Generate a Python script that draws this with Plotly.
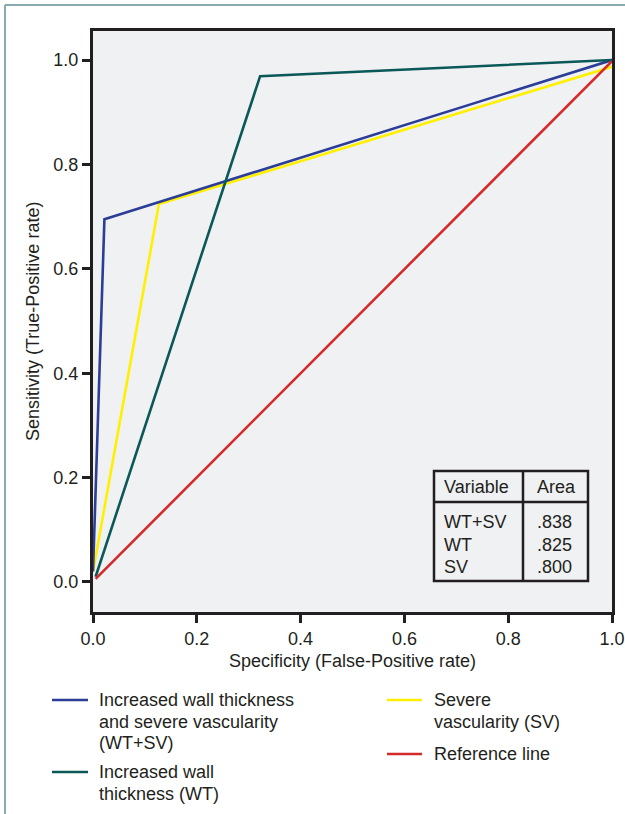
import plotly.graph_objects as go

W, H = 625, 814

# ---- data ----
wtsv_fpr = [0.0, 0.022, 1.0]
wtsv_tpr = [0.02, 0.695, 1.0]
wt_fpr = [0.005, 0.322, 1.0]
wt_tpr = [0.01, 0.969, 1.0]
sv_fpr = [0.0, 0.127, 1.0]
sv_tpr = [0.02, 0.724, 0.987]
ref_fpr = [0.005, 1.0]
ref_tpr = [0.006, 0.998]

tick_vals = [0.0, 0.2, 0.4, 0.6, 0.8, 1.0]
tick_text = ["0.0", "0.2", "0.4", "0.6", "0.8", "1.0"]

table_vars = ["WT+SV", "WT", "SV"]
table_areas = [".838", ".825", ".800"]

legend_names = [
    ["Increased wall thickness", "and severe vascularity", "(WT+SV)"],
    ["Increased wall", "thickness (WT)"],
    ["Severe", "vascularity (SV)"],
    ["Reference line"],
]

C_BLUE = "#2b3d96"
C_TEAL = "#0b5858"
C_YEL = "#fff000"
C_RED = "#d42a2a"
TXT = "#231f20"
FONT = "Liberation Sans, Arial, sans-serif"
FS = 18


def px(x):
    return x / W


def py(y):
    return 1 - y / H


fig = go.Figure()
fig.add_trace(go.Scatter(x=sv_fpr, y=sv_tpr, mode="lines", name="SV",
                         line=dict(color=C_YEL, width=2.6)))
fig.add_trace(go.Scatter(x=wtsv_fpr, y=wtsv_tpr, mode="lines", name="WT+SV",
                         line=dict(color=C_BLUE, width=2.6)))
fig.add_trace(go.Scatter(x=wt_fpr, y=wt_tpr, mode="lines", name="WT",
                         line=dict(color=C_TEAL, width=2.6)))
fig.add_trace(go.Scatter(x=ref_fpr, y=ref_tpr, mode="lines", name="Reference line",
                         line=dict(color=C_RED, width=2.6)))

axis_common = dict(
    showline=True, linecolor=TXT, linewidth=3, mirror=True,
    ticks="outside", ticklen=8, tickwidth=3, tickcolor=TXT,
    showgrid=False, zeroline=False, automargin=False,
    tickvals=tick_vals, ticktext=tick_text,
    tickfont=dict(family=FONT, size=FS, color=TXT),
)

fig.update_layout(
    template="none",
    width=W, height=H,
    margin=dict(l=0, r=0, t=0, b=0, pad=0),
    paper_bgcolor="white",
    plot_bgcolor="#f0f1f3",
    showlegend=False,
    xaxis=dict(domain=[px(93), px(612)], range=[0, 1], **axis_common),
    yaxis=dict(domain=[py(612), py(31)], range=[-0.0575, 1.0556], **axis_common),
    font=dict(family=FONT, color=TXT),
)

shapes = []
annotations = []


def ann(x, y, text, size=FS, xanchor="left", yanchor="middle", **kw):
    annotations.append(dict(xref="paper", yref="paper", x=px(x), y=py(y), text=text,
                            showarrow=False, xanchor=xanchor, yanchor=yanchor,
                            font=dict(size=size, color=TXT, family=FONT), **kw))


# page border (left and top)
border = "#8aabad"
shapes.append(dict(type="line", xref="paper", yref="paper",
                   x0=px(5), x1=px(5), y0=py(5), y1=py(814), line=dict(color=border, width=2)))
shapes.append(dict(type="line", xref="paper", yref="paper",
                   x0=px(5), x1=px(625), y0=py(5), y1=py(5), line=dict(color=border, width=2)))

# axis titles
ann(352, 661, "Specificity (False-Positive rate)", xanchor="center")
ann(33, 322, "Sensitivity (True-Positive rate)", xanchor="center", textangle=-90)

# table
tl, tr, tdiv = 434, 588, 523
tt, thead, tb = 471, 502, 581
tline = dict(color=TXT, width=2.5)
shapes.append(dict(type="rect", xref="paper", yref="paper",
                   x0=px(tl), x1=px(tr), y0=py(tb), y1=py(tt), line=tline, fillcolor="#f0f1f3"))
shapes.append(dict(type="line", xref="paper", yref="paper",
                   x0=px(tl), x1=px(tr), y0=py(thead), y1=py(thead), line=tline))
shapes.append(dict(type="line", xref="paper", yref="paper",
                   x0=px(tdiv), x1=px(tdiv), y0=py(tb), y1=py(tt), line=tline))
ann(442, 487, "Variable")
ann(556, 487, "Area", xanchor="center")
row_y = [522, 545, 567]
for v, a, ry in zip(table_vars, table_areas, row_y):
    ann(442, ry, v)
    ann(535, ry, a)

# manual legend
leg_items = [
    (C_BLUE, 52, 88, 700, 97),
    (C_TEAL, 52, 88, 772, 97),
    (C_YEL, 387, 422, 700, 432),
    (C_RED, 387, 422, 754, 432),
]
for (col, lx0, lx1, ly, tx), lines in zip(leg_items, legend_names):
    shapes.append(dict(type="line", xref="paper", yref="paper",
                       x0=px(lx0), x1=px(lx1), y0=py(ly), y1=py(ly),
                       line=dict(color=col, width=2.6)))
    for i, t in enumerate(lines):
        ann(tx, ly + i * 21.5, t)

fig.update_layout(shapes=shapes, annotations=annotations)
fig.write_html("out.html", config={"displayModeBar": False},
               post_script="document.body.style.margin='0px';")
